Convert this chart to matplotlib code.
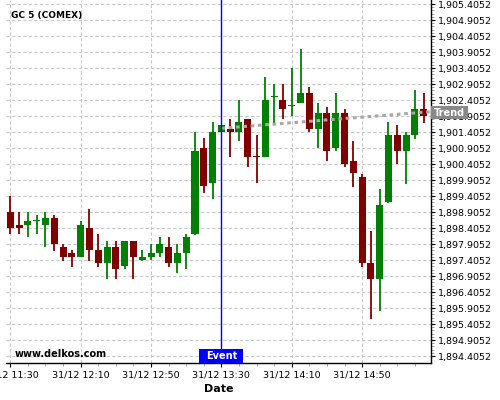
import matplotlib
matplotlib.use("Agg")
import matplotlib.pyplot as plt
from matplotlib.patches import Rectangle
from matplotlib.ticker import MultipleLocator, FuncFormatter, FixedLocator
import matplotlib.transforms as mtransforms
import numpy as np

title = "GC 5 (COMEX)"
tick_labels = ["31/12 11:30", "31/12 12:10", "31/12 12:50", "31/12 13:30", "31/12 14:10", "31/12 14:50"]
tick_index = [0, 8, 16, 24, 32, 40]

opens = [1898.905, 1898.499, 1898.499, 1898.636, 1898.499, 1898.718, 1897.811, 1897.624,
         1897.509, 1898.405, 1897.718, 1897.321, 1897.811, 1897.227, 1897.999, 1897.415,
         1897.509, 1897.624, 1897.811, 1897.321, 1897.624, 1898.218, 1900.905, 1899.821,
         1901.405, 1901.499, 1901.405, 1901.812, 1900.655, 1900.624, 1902.511, 1902.405,
         1902.230, 1902.321, 1902.624, 1901.509, 1901.999, 1900.905, 1901.999, 1900.499,
         1899.999, 1897.312, 1896.812, 1899.218, 1901.312, 1900.812, 1901.312, 1902.124]
closes = [1898.405, 1898.405, 1898.624, 1898.655, 1898.718, 1897.905, 1897.509, 1897.509,
          1898.499, 1897.718, 1897.321, 1897.811, 1897.133, 1897.999, 1897.509, 1897.509,
          1897.624, 1897.905, 1897.321, 1897.624, 1898.124, 1900.812, 1899.727, 1901.405,
          1901.624, 1901.405, 1901.718, 1900.624, 1900.640, 1902.405, 1902.530, 1902.133,
          1902.249, 1902.624, 1901.509, 1901.999, 1900.812, 1901.999, 1900.415, 1900.124,
          1897.312, 1896.812, 1899.124, 1901.312, 1900.812, 1901.312, 1902.124, 1901.905]
highs = [1899.405, 1898.905, 1898.905, 1898.811, 1898.905, 1898.811, 1897.905, 1897.718,
         1898.624, 1898.999, 1898.218, 1897.999, 1897.999, 1897.999, 1897.999, 1897.718,
         1897.905, 1898.124, 1898.124, 1897.905, 1898.218, 1901.405, 1901.218, 1901.718,
         1901.624, 1901.802, 1902.396, 1901.812, 1901.302, 1903.115, 1902.896, 1902.896,
         1903.396, 1903.990, 1902.802, 1902.302, 1902.196, 1902.615, 1902.115, 1901.115,
         1900.093, 1898.302, 1899.624, 1901.708, 1901.615, 1901.405, 1902.718, 1902.615]
lows = [1898.218, 1898.218, 1898.115, 1898.218, 1897.802, 1897.696, 1897.384, 1897.196,
        1897.499, 1897.384, 1897.196, 1896.802, 1896.802, 1897.115, 1896.802, 1897.384,
        1897.405, 1897.509, 1897.196, 1896.989, 1897.115, 1898.186, 1899.490, 1899.302,
        1901.405, 1900.615, 1901.115, 1900.302, 1899.802, 1900.624, 1901.655, 1901.802,
        1901.896, 1902.302, 1901.405, 1900.896, 1900.490, 1900.802, 1900.302, 1899.696,
        1897.196, 1895.571, 1895.802, 1899.196, 1900.396, 1899.790, 1901.196, 1901.696]

event_index = 24
trend_x = [24, 47.8]
trend_y = [1901.521, 1902.040]

fig = plt.figure(figsize=(5, 4), dpi=100)
ax = fig.add_axes([6 / 500, 37 / 400, (430.7 - 6) / 500, 363 / 400])

green = "#008000"
red = "#800000"
n = len(opens)
x = np.arange(n)
for i in range(n):
    o, c, h, l = opens[i], closes[i], highs[i], lows[i]
    col = green if c >= o else red
    ax.vlines(x[i], l, h, color=col, linewidth=1.3, zorder=3)
    bottom = min(o, c)
    height = max(abs(c - o), 0.045)
    if abs(c - o) < 0.045:
        bottom = (o + c) / 2 - 0.0225
    ax.bar(x[i], height, bottom=bottom, width=0.8, color=col, linewidth=0, zorder=4)

ax.plot(trend_x, trend_y, color="#a8a8a8", linestyle=(0, (1.2, 1.2)), linewidth=2.2, zorder=5)
ax.axvline(event_index, color="#0000ff", linewidth=1.0, zorder=6)

ax.set_xlim(-0.49, 47.8)
ax.set_ylim(1894.1865, 1905.5302)

yt = [1894.4052 + 0.5 * k for k in range(23)]
ax.yaxis.set_major_locator(FixedLocator(yt))
ax.yaxis.set_minor_locator(FixedLocator([1894.4052 + 0.1 * k for k in range(111)]))
ax.yaxis.set_major_formatter(FuncFormatter(lambda v, p: "{:,.4f}".format(v)))
ax.yaxis.tick_right()
ax.set_xticks(tick_index)
ax.set_xticklabels(tick_labels)
ax.xaxis.set_minor_locator(MultipleLocator(2))

ax.tick_params(axis="both", which="major", direction="out", length=3, width=0.8,
               labelsize=6.8, color="black", pad=2.5)
ax.tick_params(axis="both", which="minor", direction="out", length=2, width=0.6,
               color="#999999")
ax.tick_params(axis="y", which="both", left=False, right=True)

for s in ["left", "top"]:
    ax.spines[s].set_visible(False)
for s in ["right", "bottom"]:
    ax.spines[s].set_linewidth(1.0)
    ax.spines[s].set_color("black")

ax.grid(True, which="major", color="#c8c8c8", linestyle=(0, (3, 2)), linewidth=0.8)
ax.set_axisbelow(True)

ax.set_xlabel("Date", fontsize=8, fontweight="bold", labelpad=3)

ax.text(11 / 430.7 - 6 / 424.7 + 0.001, (363 - 15.5) / 363, title, transform=ax.transAxes,
        fontsize=6.5, fontweight="bold", ha="left", va="center")
ax.text(0.02, 0.026, "www.delkos.com", transform=ax.transAxes,
        fontsize=7, fontweight="bold", ha="left", va="center")

# Event label
trans = mtransforms.blended_transform_factory(ax.transData, ax.transAxes)
ax.add_patch(Rectangle((event_index - 2.5, 0.0), 5.0, 14 / 363, transform=trans,
                       facecolor="#0000ff", edgecolor="none", zorder=8, clip_on=False))
ax.text(event_index, 7 / 363, "Event", transform=trans, color="white", fontsize=7,
        fontweight="bold", ha="center", va="center", zorder=9)

# Trend label
w_ax = 424.7
ax.add_patch(Rectangle((1.0, (363 - 119.3) / 363), 37.5 / w_ax, 13.3 / 363,
                       transform=ax.transAxes, facecolor="#888888", edgecolor="none",
                       zorder=10, clip_on=False))
ax.text(1.0 + 18.7 / w_ax, (363 - 112.6) / 363, "Trend", transform=ax.transAxes,
        color="white", fontsize=7, fontweight="bold", ha="center", va="center",
        zorder=11, clip_on=False)

fig.savefig("out.png", dpi=100)
